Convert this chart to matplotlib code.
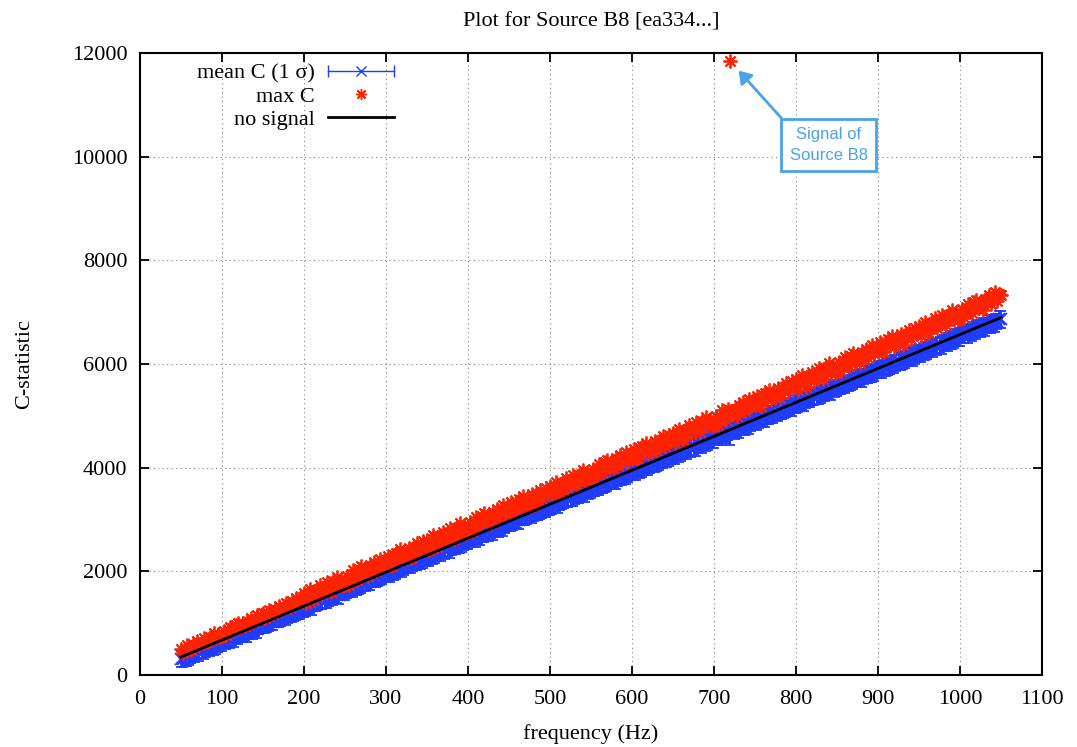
import numpy as np
import matplotlib
matplotlib.use('Agg')
import matplotlib.pyplot as plt
from matplotlib.lines import Line2D
from matplotlib.legend_handler import HandlerLine2D, HandlerTuple

plt.rcParams['font.family'] = ['Liberation Serif', 'DejaVu Serif']
plt.rcParams['font.size'] = 16

# ---------------- data ----------------
freq = np.arange(50, 1050.1, 2.5)   # Hz, sampling grid (401 points)

mean_c = [
    312, 311, 358, 353, 353, 398, 419, 415, 460, 439, 473, 469, 514, 526, 527, 573, 565, 563, 615, 617,
    625, 666, 663, 705, 687, 720, 714, 758, 764, 799, 791, 827, 810, 852, 883, 870, 904, 897, 931, 969,
    976, 972, 978, 1021, 1028, 1021, 1066, 1093, 1081, 1105, 1147, 1133, 1161, 1162, 1199, 1206, 1242, 1233, 1237, 1284,
    1295, 1294, 1341, 1336, 1336, 1381, 1402, 1398, 1443, 1422, 1456, 1452, 1497, 1509, 1510, 1556, 1548, 1546, 1598, 1600,
    1607, 1648, 1645, 1687, 1669, 1702, 1696, 1740, 1746, 1781, 1773, 1809, 1792, 1834, 1865, 1852, 1886, 1879, 1913, 1951,
    1959, 1955, 1961, 2004, 2011, 2004, 2049, 2076, 2064, 2088, 2130, 2116, 2144, 2145, 2182, 2189, 2225, 2216, 2220, 2267,
    2277, 2276, 2323, 2318, 2318, 2363, 2384, 2380, 2425, 2404, 2438, 2434, 2479, 2491, 2492, 2538, 2530, 2528, 2580, 2582,
    2590, 2631, 2628, 2670, 2652, 2685, 2679, 2723, 2729, 2764, 2756, 2792, 2775, 2817, 2848, 2835, 2869, 2862, 2896, 2934,
    2941, 2937, 2943, 2986, 2993, 2986, 3031, 3058, 3046, 3070, 3112, 3098, 3126, 3127, 3164, 3171, 3207, 3198, 3202, 3249,
    3260, 3259, 3306, 3301, 3301, 3346, 3367, 3363, 3408, 3387, 3421, 3417, 3462, 3474, 3475, 3521, 3513, 3511, 3563, 3565,
    3572, 3613, 3610, 3652, 3634, 3667, 3661, 3705, 3711, 3746, 3738, 3774, 3757, 3799, 3830, 3817, 3851, 3844, 3878, 3916,
    3924, 3920, 3926, 3969, 3976, 3969, 4014, 4041, 4029, 4053, 4095, 4081, 4109, 4110, 4147, 4154, 4190, 4181, 4185, 4232,
    4242, 4241, 4288, 4283, 4283, 4328, 4349, 4345, 4390, 4369, 4403, 4399, 4444, 4456, 4457, 4503, 4495, 4493, 4545, 4547,
    4555, 4596, 4593, 4635, 4617, 4650, 4644, 4688, 4700, 4729, 4721, 4757, 4740, 4782, 4813, 4800, 4834, 4827, 4861, 4899,
    4906, 4902, 4908, 4951, 4958, 4951, 4996, 5023, 5011, 5035, 5077, 5063, 5091, 5092, 5129, 5136, 5172, 5163, 5167, 5214,
    5225, 5224, 5271, 5266, 5266, 5311, 5332, 5328, 5373, 5352, 5386, 5382, 5427, 5439, 5440, 5486, 5478, 5476, 5528, 5530,
    5537, 5578, 5575, 5617, 5599, 5632, 5626, 5670, 5676, 5711, 5703, 5739, 5722, 5764, 5795, 5782, 5816, 5809, 5843, 5881,
    5889, 5885, 5891, 5934, 5941, 5934, 5979, 6006, 5994, 6018, 6060, 6046, 6074, 6075, 6112, 6119, 6155, 6146, 6150, 6197,
    6207, 6206, 6253, 6248, 6248, 6293, 6314, 6310, 6355, 6334, 6368, 6364, 6409, 6421, 6422, 6468, 6460, 6458, 6510, 6512,
    6520, 6561, 6558, 6600, 6582, 6615, 6609, 6653, 6659, 6694, 6686, 6722, 6705, 6747, 6778, 6765, 6799, 6792, 6826, 6864,
    6860,
]

sigma_c = [
    153, 166, 147, 171, 158, 162, 145, 173, 156, 164, 150, 169, 160, 144, 167, 155, 172, 151, 163, 159,
    168, 149, 161, 146, 174, 155, 165, 150, 170, 152, 163, 157, 171, 148, 160, 166, 154, 175, 147, 162,
    153, 166, 147, 171, 158, 162, 145, 173, 156, 164, 150, 169, 160, 144, 167, 155, 172, 151, 163, 159,
    168, 149, 161, 146, 174, 155, 165, 150, 170, 152, 163, 157, 171, 148, 160, 166, 154, 175, 147, 162,
    153, 166, 147, 171, 158, 162, 145, 173, 156, 164, 150, 169, 160, 144, 167, 155, 172, 151, 163, 159,
    168, 149, 161, 146, 174, 155, 165, 150, 170, 152, 163, 157, 171, 148, 160, 166, 154, 175, 147, 162,
    153, 166, 147, 171, 158, 162, 145, 173, 156, 164, 150, 169, 160, 144, 167, 155, 172, 151, 163, 159,
    168, 149, 161, 146, 174, 155, 165, 150, 170, 152, 163, 157, 171, 148, 160, 166, 154, 175, 147, 162,
    153, 166, 147, 171, 158, 162, 145, 173, 156, 164, 150, 169, 160, 144, 167, 155, 172, 151, 163, 159,
    168, 149, 161, 146, 174, 155, 165, 150, 170, 152, 163, 157, 171, 148, 160, 166, 154, 175, 147, 162,
    153, 166, 147, 171, 158, 162, 145, 173, 156, 164, 150, 169, 160, 144, 167, 155, 172, 151, 163, 159,
    168, 149, 161, 146, 174, 155, 165, 150, 170, 152, 163, 157, 171, 148, 160, 166, 154, 175, 147, 162,
    153, 166, 147, 171, 158, 162, 145, 173, 156, 164, 150, 169, 160, 144, 167, 155, 172, 151, 163, 159,
    168, 149, 161, 146, 174, 155, 165, 150, 270, 152, 163, 157, 171, 148, 160, 166, 154, 175, 147, 162,
    153, 166, 147, 171, 158, 162, 145, 173, 156, 164, 150, 169, 160, 144, 167, 155, 172, 151, 163, 159,
    168, 149, 161, 146, 174, 155, 165, 150, 170, 152, 163, 157, 171, 148, 160, 166, 154, 175, 147, 162,
    153, 166, 147, 171, 158, 162, 145, 173, 156, 164, 150, 169, 160, 144, 167, 155, 172, 151, 163, 159,
    168, 149, 161, 146, 174, 155, 165, 150, 170, 152, 163, 157, 171, 148, 160, 166, 154, 175, 147, 162,
    153, 166, 147, 171, 158, 162, 145, 173, 156, 164, 150, 169, 160, 144, 167, 155, 172, 151, 163, 159,
    168, 149, 161, 146, 174, 155, 165, 150, 170, 152, 163, 157, 171, 148, 160, 166, 154, 175, 147, 162,
    160,
]

max_c = [
    510, 419, 511, 576, 501, 483, 593, 574, 654, 571, 638, 711, 645, 630, 740, 706, 801, 718, 791, 738,
    752, 855, 776, 866, 932, 871, 860, 970, 1005, 931, 994, 936, 1051, 1018, 1098, 1022, 1087, 1156, 1081, 1156,
    1196, 1105, 1197, 1262, 1187, 1169, 1279, 1260, 1340, 1257, 1324, 1397, 1331, 1316, 1426, 1392, 1487, 1404, 1477, 1424,
    1586, 1388, 1555, 1667, 1500, 1447, 1649, 1596, 1738, 1555, 1672, 1800, 1652, 1604, 1806, 1723, 1895, 1712, 1840, 1717,
    1729, 1916, 1743, 1905, 2018, 1880, 1842, 2044, 2096, 1933, 2040, 1908, 2120, 2037, 2179, 2011, 2123, 2245, 2078, 2210,
    2217, 2304, 2131, 2108, 2316, 2363, 2250, 2422, 2214, 2346, 2288, 2456, 2258, 2455, 2407, 2549, 2366, 2493, 2581, 2458,
    2614, 2416, 2583, 2695, 2528, 2475, 2677, 2624, 2766, 2583, 2700, 2828, 2680, 2632, 2834, 2751, 2923, 2740, 2868, 2745,
    2757, 2944, 2771, 2933, 3046, 2908, 2870, 3072, 3124, 2961, 3068, 2936, 3148, 3065, 3207, 3039, 3151, 3273, 3106, 3238,
    3245, 3332, 3159, 3136, 3344, 3391, 3278, 3450, 3242, 3374, 3316, 3484, 3286, 3483, 3435, 3577, 3394, 3521, 3609, 3486,
    3643, 3445, 3612, 3724, 3557, 3504, 3706, 3653, 3795, 3612, 3729, 3857, 3709, 3661, 3863, 3780, 3952, 3769, 3897, 3774,
    3786, 3973, 3800, 3962, 4075, 3937, 3899, 4101, 4153, 3990, 4097, 3965, 4177, 4094, 4236, 4068, 4180, 4302, 4135, 4267,
    4274, 4361, 4188, 4165, 4373, 4420, 4307, 4479, 4271, 4403, 4345, 4513, 4315, 4512, 4464, 4606, 4423, 4550, 4638, 4515,
    4672, 4474, 4641, 4753, 4586, 4533, 4735, 4682, 4824, 4641, 4758, 4886, 4738, 4690, 4892, 4809, 4981, 4798, 4926, 4803,
    4815, 5002, 4829, 4991, 5104, 4966, 4928, 5130, 11850, 5019, 5126, 4994, 5206, 5123, 5265, 5097, 5209, 5331, 5164, 5296,
    5303, 5390, 5217, 5194, 5402, 5449, 5336, 5508, 5300, 5432, 5374, 5542, 5344, 5541, 5493, 5635, 5452, 5579, 5667, 5544,
    5701, 5503, 5670, 5782, 5615, 5562, 5764, 5711, 5853, 5670, 5787, 5915, 5767, 5719, 5921, 5838, 6010, 5827, 5955, 5832,
    5843, 6030, 5857, 6019, 6132, 5994, 5956, 6158, 6210, 6047, 6154, 6022, 6234, 6151, 6293, 6125, 6237, 6359, 6192, 6324,
    6331, 6418, 6245, 6222, 6430, 6477, 6364, 6536, 6328, 6460, 6402, 6570, 6372, 6569, 6521, 6663, 6480, 6607, 6695, 6572,
    6729, 6531, 6698, 6810, 6643, 6590, 6792, 6739, 6881, 6698, 6815, 6943, 6795, 6747, 6949, 6866, 7038, 6855, 6983, 6860,
    6872, 7059, 6886, 7048, 7161, 7023, 6985, 7187, 7239, 7076, 7183, 7051, 7263, 7180, 7322, 7154, 7266, 7388, 7221, 7353,
    7330,
]

nosig_freq = [50, 1050]
nosig_c = [347, 6897]

labels = ['mean C (1 σ)', 'max C', 'no signal']
title = 'Plot for Source B8 [ea334...]'
annot_text = 'Signal of\nSource B8'

BLUE = '#1f3bff'
RED = '#ff2200'
ANN = '#4aa3ea'

# ---------------- figure ----------------
W, H = 1077, 747
fig = plt.figure(figsize=(W / 100, H / 100), dpi=100)
ax = fig.add_axes([140 / W, 1 - 675 / H, (1042 - 140) / W, (675 - 53) / H])

ax.errorbar(freq, mean_c, yerr=sigma_c, fmt='x', color=BLUE, ms=8, mew=1.3,
            elinewidth=1.3, capsize=3.5, capthick=1.3, zorder=3)
ax.plot(freq, max_c, linestyle='none', marker=(8, 2, 0), ms=10, mew=1.3,
        color=RED, zorder=4)
ax.plot(nosig_freq, nosig_c, color='black', lw=2, zorder=5)

ax.set_xlim(0, 1100)
ax.set_ylim(0, 12000)
ax.set_xticks(np.arange(0, 1101, 100))
ax.set_yticks(np.arange(0, 12001, 2000))
ax.grid(True, color='#808080', linestyle=(0, (1, 3)), linewidth=0.8)
ax.set_axisbelow(True)
ax.tick_params(direction='in', length=6.5, width=1.3, top=True, right=True,
               labelsize=16)
ax.tick_params(axis='x', pad=11)
ax.tick_params(axis='y', pad=9)
for s in ax.spines.values():
    s.set_linewidth(1.5)

ax.set_xlabel('frequency (Hz)', fontsize=16, labelpad=11)
ax.set_ylabel('C-statistic', fontsize=16, labelpad=27)
ax.set_title(title, fontsize=16, pad=19)

ax.annotate(annot_text, xy=(730, 11660), xytext=(840, 10222), textcoords='data',
            ha='center', va='center', family=['Liberation Sans', 'DejaVu Sans'],
            fontsize=12, color=ANN, linespacing=1.45, zorder=10,
            bbox=dict(boxstyle='square,pad=0.5', fc='white', ec=ANN, lw=2),
            arrowprops=dict(arrowstyle='-|>,head_length=0.6,head_width=0.4',
                            color=ANN, lw=2, relpos=(0, 1), shrinkA=0, shrinkB=0))

eb_line = Line2D([], [], color=BLUE, marker='x', ms=7, mew=1, lw=1)
eb_caps = Line2D([], [], color=BLUE, marker='|', ms=8, mew=1, ls='none')
max_h = Line2D([], [], color=RED, marker=(8, 2, 0), ms=8, mew=1, ls='none')
ns_h = Line2D([], [], color='black', lw=2)
ax.legend([(eb_line, eb_caps), max_h, ns_h], labels,
          handler_map={tuple: HandlerTuple(ndivide=1, pad=0),
                       eb_caps: HandlerLine2D(numpoints=2, marker_pad=0)},
          loc='upper right', bbox_to_anchor=(394 / W, 1 - 63 / H),
          bbox_transform=fig.transFigure, frameon=False, markerfirst=False,
          borderpad=0, borderaxespad=0, handlelength=2.95, handletextpad=0.6,
          labelspacing=0.12, fontsize=16)

fig.savefig('out.png', dpi=100)
